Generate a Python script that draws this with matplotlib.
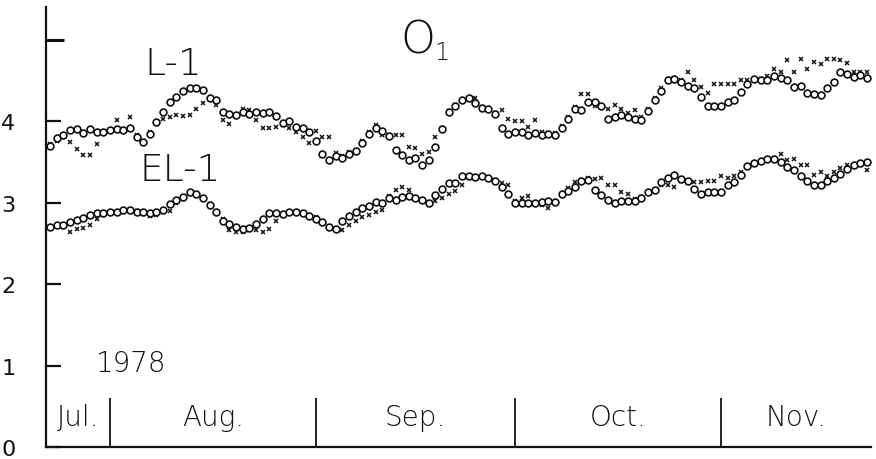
import numpy as np
import matplotlib
matplotlib.use("Agg")
import matplotlib.pyplot as plt

plt.rcParams['font.family'] = ['DejaVu Sans']

# day number counted from 1 July 1978 (Jul 1 = 1), one reading per day
days = np.arange(23, 147)

# L-1, circles
l1_circ = [3.70, 3.79, 3.83, 3.89, 3.90, 3.85, 3.90, 3.86, 3.87, 3.89,
           3.90, 3.89, 3.91, 3.81, 3.74, 3.84, 3.99, 4.11, 4.23, 4.30,
           4.37, 4.41, 4.41, 4.38, 4.28, 4.26, 4.11, 4.09, 4.08, 4.11,
           4.09, 4.11, 4.10, 4.11, 4.06, 3.98, 4.00, 3.93, 3.91, 3.87,
           3.75, 3.59, 3.52, 3.57, 3.55, 3.59, 3.63, 3.73, 3.84, 3.92,
           3.88, 3.82, 3.64, 3.58, 3.52, 3.55, 3.46, 3.52, 3.68, 3.90,
           4.11, 4.19, 4.26, 4.28, 4.22, 4.16, 4.15, 4.09, 3.92, 3.84,
           3.86, 3.86, 3.83, 3.85, 3.83, 3.84, 3.83, 3.92, 4.02, 4.15,
           4.13, 4.23, 4.23, 4.18, 4.03, 4.05, 4.08, 4.05, 4.02, 4.01,
           4.12, 4.26, 4.37, 4.51, 4.52, 4.48, 4.43, 4.41, 4.30, 4.18,
           4.19, 4.18, 4.24, 4.26, 4.36, 4.46, 4.52, 4.51, 4.50, 4.55,
           4.53, 4.50, 4.42, 4.43, 4.35, 4.33, 4.32, 4.41, 4.48, 4.60,
           4.58, 4.54, 4.56, 4.53]

# L-1, crosses
l1_cross = [3.72, 3.76, 3.80, 3.74, 3.66, 3.58, 3.58, 3.72, 3.86, 3.88,
            4.01, 3.90, 4.05, 3.83, 3.76, 3.86, 3.96, 4.03, 4.05, 4.07,
            4.06, 4.07, 4.15, 4.22, 4.28, 4.20, 4.01, 3.97, 4.05, 4.15,
            4.13, 4.01, 3.92, 3.92, 3.93, 3.95, 3.91, 3.86, 3.80, 3.73,
            3.88, 3.81, 3.81, 3.61, 3.57, 3.62, 3.65, 3.75, 3.86, 3.95,
            3.83, 3.83, 3.83, 3.83, 3.68, 3.67, 3.60, 3.62, 3.81, 3.92,
            4.12, 4.20, 4.25, 4.28, 4.28, 4.17, 4.14, 4.10, 4.13, 4.02,
            4.00, 4.00, 3.93, 4.01, 3.86, 3.85, 3.85, 3.94, 4.05, 4.17,
            4.33, 4.33, 4.18, 4.20, 4.15, 4.20, 4.15, 4.10, 4.13, 4.05,
            4.15, 4.28, 4.40, 4.52, 4.53, 4.50, 4.60, 4.50, 4.42, 4.34,
            4.45, 4.45, 4.46, 4.46, 4.51, 4.51, 4.52, 4.52, 4.55, 4.64,
            4.60, 4.75, 4.60, 4.76, 4.64, 4.73, 4.70, 4.76, 4.76, 4.75,
            4.71, 4.60, 4.60, 4.60]

# EL-1, circles
el1_circ = [2.70, 2.72, 2.72, 2.76, 2.79, 2.81, 2.85, 2.87, 2.87, 2.88,
            2.89, 2.91, 2.91, 2.89, 2.88, 2.87, 2.88, 2.91, 2.98, 3.03,
            3.07, 3.13, 3.10, 3.05, 2.97, 2.88, 2.77, 2.74, 2.70, 2.68,
            2.69, 2.74, 2.80, 2.87, 2.87, 2.86, 2.88, 2.88, 2.87, 2.83,
            2.80, 2.76, 2.70, 2.68, 2.77, 2.83, 2.89, 2.93, 2.96, 3.01,
            3.00, 3.05, 3.03, 3.07, 3.08, 3.06, 3.03, 3.00, 3.09, 3.17,
            3.24, 3.24, 3.32, 3.32, 3.31, 3.32, 3.30, 3.26, 3.19, 3.10,
            2.99, 2.99, 2.99, 2.99, 3.01, 3.02, 3.01, 3.11, 3.14, 3.19,
            3.26, 3.28, 3.15, 3.09, 3.03, 2.99, 3.02, 3.02, 3.02, 3.06,
            3.13, 3.15, 3.25, 3.30, 3.34, 3.29, 3.26, 3.17, 3.11, 3.13,
            3.13, 3.13, 3.21, 3.25, 3.34, 3.45, 3.48, 3.51, 3.53, 3.54,
            3.50, 3.44, 3.40, 3.32, 3.26, 3.21, 3.21, 3.26, 3.30, 3.35,
            3.41, 3.46, 3.48, 3.50]

# EL-1, crosses
el1_cross = [2.70, 2.71, 2.70, 2.64, 2.67, 2.69, 2.73, 2.80, 2.85, 2.87,
             2.88, 2.90, 2.92, 2.90, 2.86, 2.84, 2.85, 2.88, 2.90, 2.99,
             3.04, 3.10, 3.12, 3.06, 2.98, 2.90, 2.80, 2.66, 2.64, 2.64,
             2.66, 2.66, 2.64, 2.68, 2.77, 2.84, 2.87, 2.88, 2.86, 2.84,
             2.82, 2.75, 2.70, 2.67, 2.66, 2.72, 2.77, 2.82, 2.85, 2.88,
             2.91, 3.08, 3.15, 3.19, 3.15, 3.05, 3.02, 2.97, 3.02, 3.06,
             3.10, 3.14, 3.21, 3.30, 3.31, 3.33, 3.31, 3.28, 3.24, 3.21,
             3.02, 3.06, 3.08, 3.00, 2.97, 2.93, 3.00, 3.10, 3.18, 3.25,
             3.28, 3.30, 3.29, 3.30, 3.21, 3.21, 3.13, 3.10, 3.04, 3.07,
             3.12, 3.16, 3.21, 3.21, 3.19, 3.26, 3.24, 3.25, 3.25, 3.26,
             3.26, 3.33, 3.30, 3.33, 3.37, 3.44, 3.48, 3.50, 3.53, 3.55,
             3.59, 3.52, 3.54, 3.46, 3.46, 3.34, 3.38, 3.32, 3.38, 3.43,
             3.46, 3.45, 3.46, 3.40]

month_names = ['Jul.', 'Aug.', 'Sep.', 'Oct.', 'Nov.']
month_starts = [32, 63, 93, 124]   # Aug 1, Sep 1, Oct 1, Nov 1

x_lo, x_hi = 22.37, 146.6
y_lo, y_hi = 0, 5.40

fig = plt.figure(figsize=(8.76, 4.60), dpi=100)
ax = fig.add_axes([46 / 876, 12 / 460, 825 / 876, 440 / 460])
ax.set_xlim(x_lo, x_hi)
ax.set_ylim(y_lo, y_hi)

ink = '#111111'

# data
ax.plot(days, l1_cross, ls='none', marker='x', ms=3.2, mew=1.1, color=ink)
ax.plot(days, el1_cross, ls='none', marker='x', ms=3.2, mew=1.1, color=ink)
ax.plot(days, l1_circ, ls='none', marker='o', ms=4.9, mew=1.2,
        mfc='white', mec=ink)
ax.plot(days, el1_circ, ls='none', marker='o', ms=4.9, mew=1.2,
        mfc='white', mec=ink)

# axes look
for s in ['top', 'right']:
    ax.spines[s].set_visible(False)
ax.spines['left'].set_linewidth(1.6)
ax.spines['bottom'].set_linewidth(1.6)
ax.spines['left'].set_color(ink)
ax.spines['bottom'].set_color(ink)

ax.set_xticks([])
ax.set_yticks([0, 1, 2, 3, 4, 5])
ax.set_yticklabels(['0', '1', '2', '3', '4', ''])
ax.tick_params(axis='y', direction='in', length=11, width=1.6, pad=22,
               labelsize=16, colors=ink)
ax.yaxis.get_major_ticks()[5].tick1line.set_markersize(13)
ax.yaxis.get_major_ticks()[5].tick1line.set_markeredgewidth(2.2)

# month boxes along the bottom
ax.vlines(month_starts, 0, 0.6, color=ink, lw=1.3)
edges = [x_lo] + month_starts + [x_hi]
for i, name in enumerate(month_names):
    xc = (edges[i] + edges[i + 1]) / 2
    ax.text(xc, 0.37, name, ha='center', va='center', fontsize=20,
            color=ink, fontweight='light')

# labels
ax.text(78.3, 5.0, 'O', ha='center', va='center', fontsize=32, color=ink,
        fontweight='light')
ax.text(82.0, 4.85, '1', ha='center', va='center', fontsize=17, color=ink,
        fontweight='light')
ax.text(41.6, 4.71, 'L-1', ha='center', va='center', fontsize=27, color=ink,
        fontweight='light')
ax.text(42.6, 3.40, 'EL-1', ha='center', va='center', fontsize=27, color=ink,
        fontweight='light')
ax.text(35.2, 1.03, '1978', ha='center', va='center', fontsize=20, color=ink,
        fontweight='light')

fig.savefig('out.png', dpi=100)
